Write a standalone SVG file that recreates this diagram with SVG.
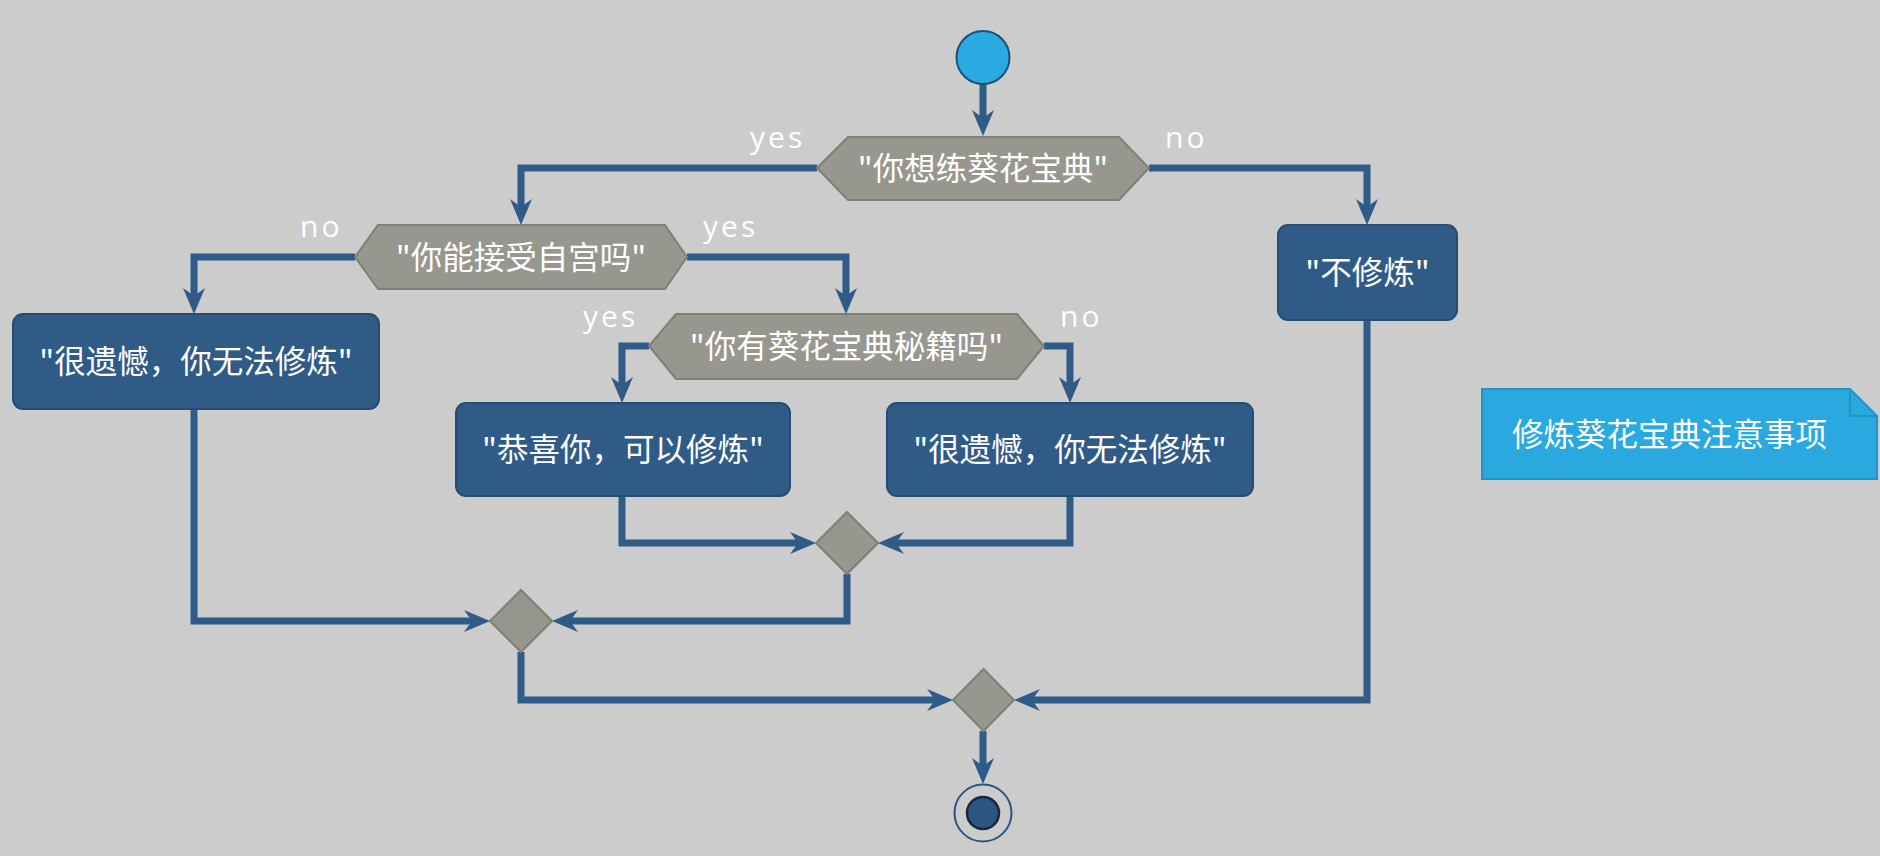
<svg xmlns="http://www.w3.org/2000/svg" width="1880" height="856" viewBox="0 0 1880 856">
<defs>
<style>
.hex{fill:#98978f;stroke:#807f75;stroke-width:2}
.box{fill:#305b87;stroke:#264c74;stroke-width:2}
.dia{fill:#98978f;stroke:#807f75;stroke-width:2}
.t{font-family:"Noto Sans CJK SC","Noto Sans",sans-serif;font-size:31.5px;fill:#ffffff;text-anchor:middle}
.lbl{font-family:"Open Sans","DejaVu Sans",sans-serif;font-size:30px;fill:#ffffff;letter-spacing:3px}
.c{fill:none;stroke:#2f5b88;stroke-width:7;marker-end:url(#ah)}
</style>
<marker id="ah" markerUnits="userSpaceOnUse" orient="auto" markerWidth="40" markerHeight="40" refX="0" refY="0" viewBox="-20 -20 40 40" overflow="visible">
<path d="M10,0 L-16,-11 L-8,0 L-16,11 Z" fill="#2f5b88"/>
</marker>
</defs>
<rect width="1880" height="856" fill="#cccccc"/>
<g id="connectors">
<path class="c" d="M983,84 V126"/>
<path class="c" d="M817,168 H521 V215"/>
<path class="c" d="M1149,168 H1367 V215"/>
<path class="c" d="M355,257 H194 V304"/>
<path class="c" d="M687,257 H846 V304"/>
<path class="c" d="M649,346 H622 V393"/>
<path class="c" d="M1044,346 H1070 V393"/>
<path class="c" d="M622,496 V543 H806"/>
<path class="c" d="M1070,496 V543 H888"/>
<path class="c" d="M847,574 V621 H562"/>
<path class="c" d="M194,409 V621 H480"/>
<path class="c" d="M521,652 V700 H943"/>
<path class="c" d="M1367,320 V700 H1024"/>
<path class="c" d="M983,731 V774"/>
<text class="lbl" x="750" y="148">yes</text>
<text class="lbl" x="1165" y="148">no</text>
<text class="lbl" x="300" y="237">no</text>
<text class="lbl" x="703" y="237">yes</text>
<text class="lbl" x="583" y="327">yes</text>
<text class="lbl" x="1060" y="327">no</text>
</g>
<g id="start"><circle cx="983" cy="57.5" r="26.5" fill="#29abe2" stroke="#1f4f75" stroke-width="2"/></g>
<g id="q1"><polygon class="hex" points="817,168 848,137 1119,137 1149,168 1119,200 848,200"/><text class="t" x="983" y="180">"你想练葵花宝典"</text></g>
<g id="q2"><polygon class="hex" points="355,257 378,225 665,225 687,257 665,289 378,289"/><text class="t" x="521" y="269">"你能接受自宫吗"</text></g>
<g id="q3"><polygon class="hex" points="649,346 676,314 1017,314 1044,346 1017,379 676,379"/><text class="t" x="846.5" y="358">"你有葵花宝典秘籍吗"</text></g>
<g id="a1"><rect class="box" x="13" y="314" width="366" height="95" rx="10"/><text class="t" x="196" y="373">"很遗憾，你无法修炼"</text></g>
<g id="a2"><rect class="box" x="456" y="403" width="334" height="93" rx="10"/><text class="t" x="623" y="461">"恭喜你，可以修炼"</text></g>
<g id="a3"><rect class="box" x="887" y="403" width="366" height="93" rx="10"/><text class="t" x="1070" y="461">"很遗憾，你无法修炼"</text></g>
<g id="a4"><rect class="box" x="1278" y="225" width="179" height="95" rx="10"/><text class="t" x="1367.5" y="284">"不修炼"</text></g>
<g id="m1"><polygon class="dia" points="847,512 878,543 847,574 816,543"/></g>
<g id="m2"><polygon class="dia" points="521,590 552,621 521,652 490,621"/></g>
<g id="m3"><polygon class="dia" points="983.5,669 1014,700 983.5,731 953,700"/></g>
<g id="end"><circle cx="983" cy="813" r="28.5" fill="none" stroke="#2c5580" stroke-width="2"/><circle cx="983" cy="813" r="16" fill="#2c5580" stroke="#15283d" stroke-width="2.5"/></g>
<g id="note"><path d="M1482,389 H1850 L1877,416 V479 H1482 Z" fill="#29a9df" stroke="#2494c6" stroke-width="2"/><path d="M1850,389 V416 H1877" fill="none" stroke="#2494c6" stroke-width="2"/><text class="t" x="1512" y="446" style="text-anchor:start">修炼葵花宝典注意事项</text></g>
</svg>
